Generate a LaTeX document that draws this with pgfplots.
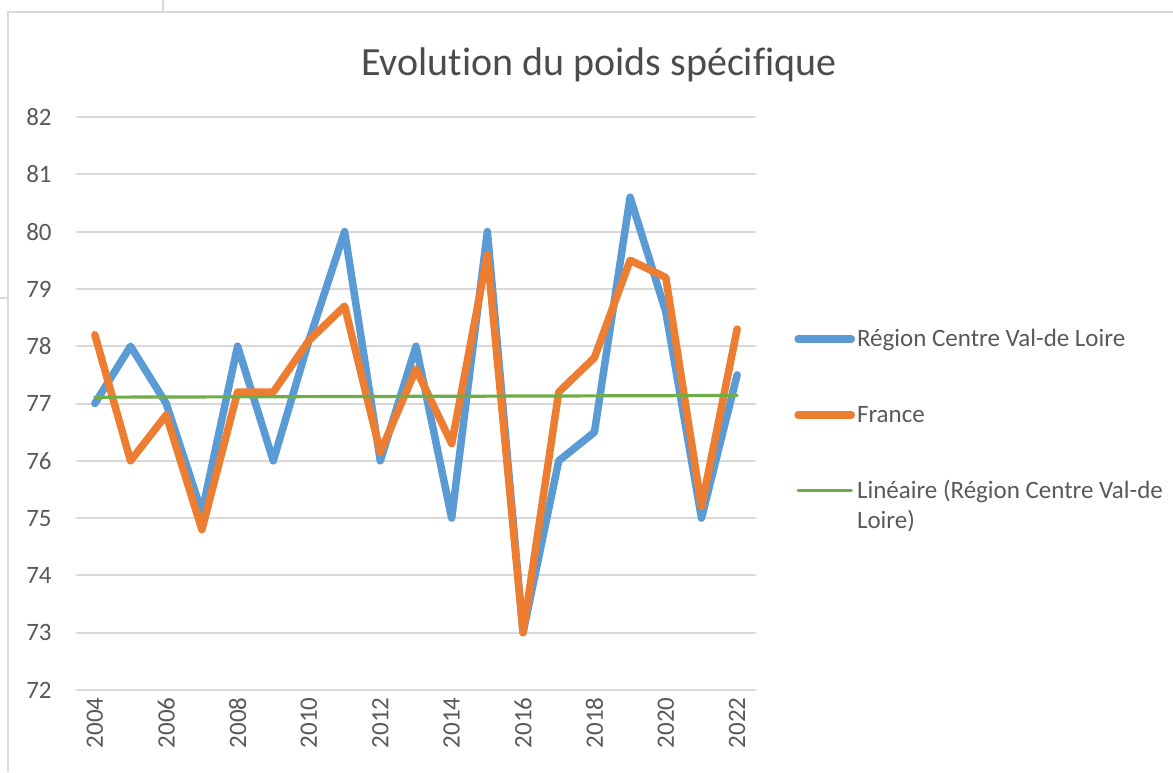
\documentclass[border=0pt]{standalone}
\usepackage{fontspec}
\setmainfont{Carlito}[Ligatures={NoCommon,NoContextual}]
\usepackage{pgfplots}
\pgfplotsset{compat=1.18}
\definecolor{cblue}{HTML}{5B9BD5}
\definecolor{corange}{HTML}{ED7D31}
\definecolor{cgreen}{HTML}{70AD47}
\definecolor{cgrid}{HTML}{D9D9D9}
\definecolor{ctext}{HTML}{595959}
\begin{document}
\begin{tikzpicture}
\path[use as bounding box] (0,0) rectangle (586.5pt,386pt);
\draw[cgrid, line width=1pt] (4pt,0) -- (4pt,380pt) -- (586.5pt,380pt);
\draw[cgrid, line width=1pt] (81.5pt,380pt) -- (81.5pt,386pt);
\draw[cgrid, line width=1pt] (0,237pt) -- (4pt,237pt);
\node[anchor=base, inner sep=0pt, font=\fontsize{20}{24}\selectfont, text=ctext!85!black] at (299.5pt,348pt) {Evolution du poids spécifique};
\begin{axis}[
  at={(38.5pt,41pt)}, anchor=south west,
  scale only axis, width=339pt, height=286.5pt,
  xmin=2003.5, xmax=2022.5, ymin=72, ymax=82,
  xtick={2004,2006,...,2022}, ytick={72,73,...,82},
  axis line style={draw=none},
  tick style={draw=none},
  ymajorgrids, major grid style={cgrid, line width=1pt},
  /pgf/number format/assume math mode=true,
  /pgf/number format/1000 sep={},
  ticklabel style={font=\fontsize{12.5}{15}\selectfont, text=ctext},
  xticklabel style={rotate=90, anchor=east, inner sep=0pt},
  xticklabel shift=3.5pt,
  yticklabel style={anchor=east, inner sep=0pt},
  yticklabel shift=12.5pt,
  legend style={at={(1.058,0.631)}, anchor=north west, draw=none, fill=none,
    inner sep=0pt, outer sep=0pt,
    font=\fontsize{12.5}{15}\selectfont, text=ctext, row sep=26pt,
    nodes={inner sep=0pt, text height=9pt, text depth=3pt}},
  legend cell align=left,
  /tikz/every odd column/.style={column sep=1pt},
  legend image code/.code={\draw[#1, line cap=round, yshift=0.8pt] (1.9pt,0pt) -- (28.5pt,0pt);},
  line join=round, line cap=round,
]
\addplot[cblue, line width=3.75pt] coordinates {
(2004,77.0)(2005,78.0)(2006,77.0)(2007,75.1)(2008,78.0)(2009,76.0)(2010,78.1)(2011,80.0)(2012,76.0)(2013,78.0)(2014,75.0)(2015,80.0)(2016,73.0)(2017,76.0)(2018,76.5)(2019,80.6)(2020,78.6)(2021,75.0)(2022,77.5)};
\addlegendentry{Région Centre Val-de Loire}
\addplot[corange, line width=3.75pt] coordinates {
(2004,78.2)(2005,76.0)(2006,76.8)(2007,74.8)(2008,77.2)(2009,77.2)(2010,78.1)(2011,78.7)(2012,76.15)(2013,77.6)(2014,76.3)(2015,79.6)(2016,73.0)(2017,77.2)(2018,77.8)(2019,79.5)(2020,79.2)(2021,75.2)(2022,78.3)};
\addlegendentry{France}
\addplot[cgreen, line width=1.6pt] coordinates {(2004,77.11)(2022,77.14)};
\addlegendentry{\begin{tabular}[t]{@{}l@{}}Linéaire (Région Centre Val-de\\Loire)\end{tabular}}
\end{axis}
\end{tikzpicture}
\end{document}
